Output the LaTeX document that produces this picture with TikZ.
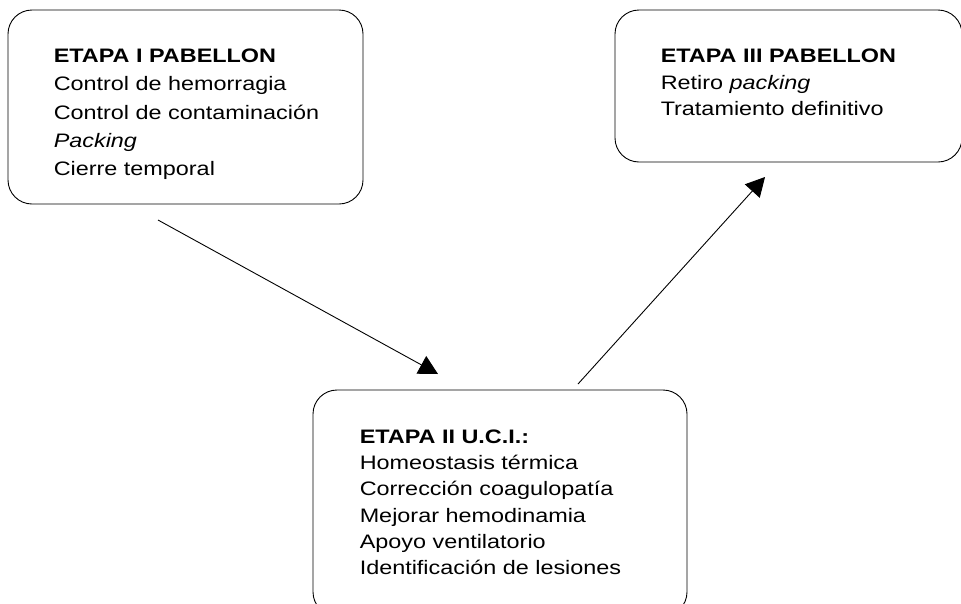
\documentclass[tikz,border=0pt]{standalone}
\usepackage{fontspec}
\setmainfont{Liberation Sans}[FakeStretch=1.2]
\usetikzlibrary{arrows.meta}
\begin{document}
\begin{tikzpicture}[x=1pt,y=-1pt]
	 \tikzstyle{stage}=[draw,line width=0.9pt,rounded corners=24pt,inner sep=0pt]
	 \tikzstyle{stage text}=[anchor=north west,inner sep=0pt,align=left]
	 \tikzstyle{flow}=[draw,line width=0.9pt,-{Triangle[length=19pt,width=20pt]}]

	 \useasboundingbox (0,0) rectangle (961,603);

	 % boxes
	 \node[stage,minimum width=355pt,minimum height=194pt] (s1) at (185.5,107) {};
	 \node[stage,minimum width=347pt,minimum height=152pt] (s3) at (788.5,86) {};
	 \node[stage,minimum width=374pt,minimum height=226pt] (s2) at (500,503) {};

	 \node[stage text,font=\fontsize{19.5}{28.3}\selectfont] (t1) at ([shift={(46,39.3)}]s1.north west)
	   {\textbf{ETAPA I PABELLON}\\Control de hemorragia\\Control de contaminación\\\textit{Packing}\\Cierre temporal};
	 \node[stage text,font=\fontsize{19.5}{26.5}\selectfont] (t3) at ([shift={(46,39.3)}]s3.north west)
	   {\textbf{ETAPA III PABELLON}\\Retiro \textit{packing}\\Tratamiento definitivo};
	 \node[stage text,font=\fontsize{19.5}{26.3}\selectfont] (t2) at ([shift={(47,40)}]s2.north west)
	   {\textbf{ETAPA II U.C.I.:}\\Homeostasis térmica\\Corrección coagulopatía\\Mejorar hemodinamia\\Apoyo ventilatorio\\Identificación de lesiones};

	 % arrows
	 \coordinate (f1) at (158,220);
	 \coordinate (g1) at (438,374);
	 \coordinate (f2) at (578,384);
	 \coordinate (g2) at (765,177);
	 \draw[flow] (f1) -- (g1);
	 \draw[flow] (f2) -- (g2);
\end{tikzpicture}
\end{document}
